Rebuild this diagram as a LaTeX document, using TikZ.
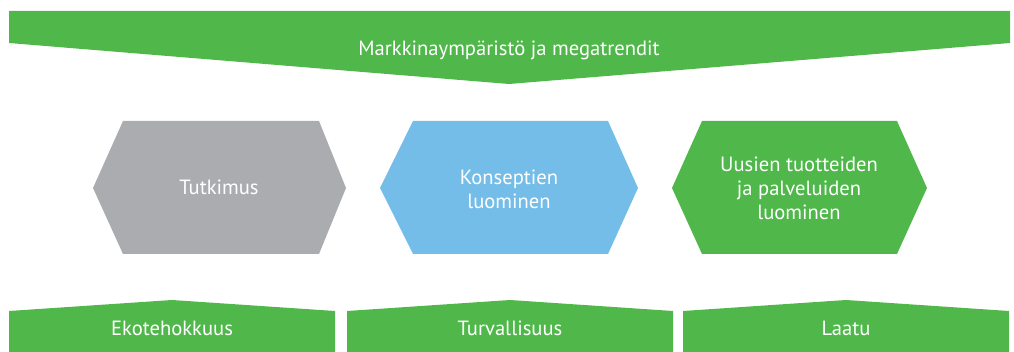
\documentclass[tikz,border=0pt]{standalone}
\usepackage{fontspec}
\setmainfont{PT Sans}
\usetikzlibrary{positioning}
\definecolor{trendgreen}{HTML}{50B84B}
\definecolor{phasegray}{HTML}{ABACAF}
\definecolor{phaseblue}{HTML}{74BDE8}

\begin{document}
\begin{tikzpicture}[
        x=1pt, y=-1pt,
        lbl/.style={text=white, font=\fontsize{20.6}{24}\selectfont, align=center, inner sep=0pt}
    ]
        \useasboundingbox (0,0) rectangle (1014,352);

        % Banner
        \fill[trendgreen] (9,11) -- (1010,11) -- (1010,43) -- (509,84) -- (9,43) -- cycle;

        % Hexagons
        \fill[phasegray] (93,188) -- (123,121) -- (319,121) -- (346,188) -- (319,254) -- (123,254) -- cycle;
        \fill[phaseblue] (380,188) -- (413,121) -- (608,121) -- (638,188) -- (608,254) -- (413,254) -- cycle;
        \fill[trendgreen] (672,188) -- (702,121) -- (897,121) -- (927,188) -- (897,254) -- (702,254) -- cycle;

        % Bottom boxes
        \fill[trendgreen] (9,352) -- (9,311) -- (172,300) -- (335,311) -- (335,352) -- cycle;
        \fill[trendgreen] (347,352) -- (347,311) -- (510,300) -- (673,311) -- (673,352) -- cycle;
        \fill[trendgreen] (683,352) -- (683,311) -- (846,300) -- (1009,311) -- (1009,352) -- cycle;

        % Nodes
        \node[lbl, anchor=base] (trends) at (509,56) {Markkinaympäristö ja megatrendit};
        \node[lbl] (research) at (219,187) {Tutkimus};
        \node[lbl] (concepts) at (509,189) {Konseptien\\luominen};
        \node[lbl] (products) at (799,188) {Uusien tuotteiden\\ja palveluiden\\luominen};
        \node[lbl, anchor=base] (eco) at (172,335) {Ekotehokkuus};
        \node[lbl, anchor=base] (safety) at (510,335) {Turvallisuus};
        \node[lbl, anchor=base] (quality) at (846,335) {Laatu};
    \end{tikzpicture}
\end{document}
